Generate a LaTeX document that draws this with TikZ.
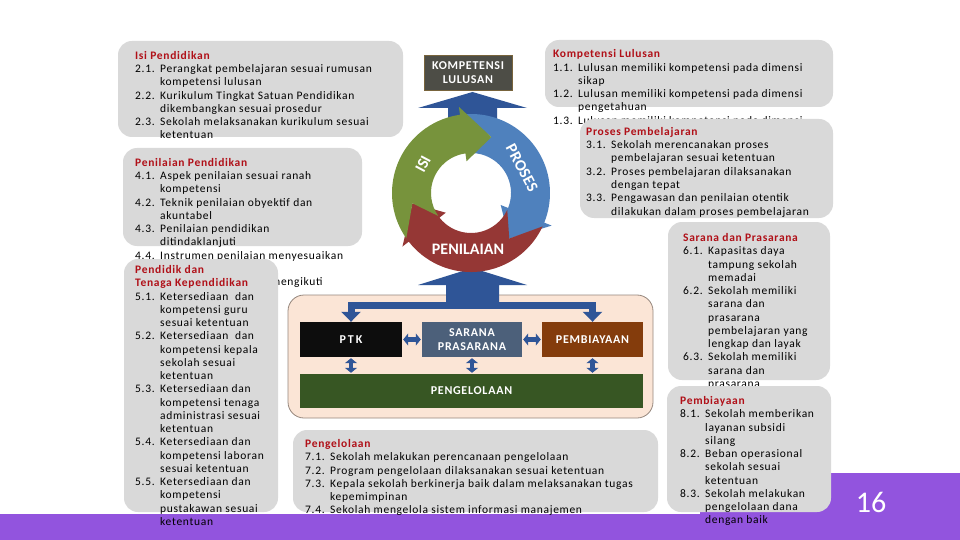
\documentclass[tikz,border=0pt]{standalone}
\usepackage{fontspec}
\setmainfont{Carlito}[LetterSpace=6]
\newfontfamily\plainf{Carlito}
\usetikzlibrary{arrows.meta,calc}

\definecolor{boxgray}{RGB}{217,217,217}
\definecolor{titlered}{RGB}{176,16,24}
\definecolor{purp}{RGB}{146,84,222}
\definecolor{navy}{RGB}{47,85,151}
\definecolor{cgreen}{RGB}{119,147,60}
\definecolor{cblue}{RGB}{79,129,189}
\definecolor{cred}{RGB}{149,55,53}
\definecolor{peach}{RGB}{251,229,214}
\definecolor{peachline}{RGB}{150,135,125}
\definecolor{kbox}{RGB}{77,77,70}
\definecolor{kline}{RGB}{120,100,60}
\definecolor{sarbox}{RGB}{76,96,122}
\definecolor{pembbox}{RGB}{132,60,12}
\definecolor{pglbox}{RGB}{55,86,35}

\newcommand{\ttlx}[1]{\hbox{\bfseries\color{titlered}#1}}
\newcommand{\itx}[2]{\hbox{\makebox[25pt][l]{#1}#2}}
\newcommand{\ctx}[1]{\hbox{\hspace*{25pt}#1}}
\newcommand{\blk}[1]{\vtop{\baselineskip=13.25pt\lineskiplimit=-20pt\lineskip=0pt\relax #1}}

\begin{document}
\begin{tikzpicture}[x=1pt,y=-1pt,
  gbox/.style={fill=boxgray, draw=none, rounded corners=14pt},
  txt/.style={anchor=base west, inner sep=0pt, font=\fontsize{11.5}{13.25}\selectfont},
  cbox/.style={inner sep=0pt, text=white, align=center, font=\bfseries\fontsize{12}{14}\selectfont},
  cyc/.style={text=white, inner sep=0pt, font=\plainf\bfseries\fontsize{16}{18}\selectfont},
  dbl/.style={navy, line width=4.5pt, {Triangle[width=12pt,length=5pt]}-{Triangle[width=12pt,length=5pt]}, shorten <=1pt, shorten >=1pt}
]
\useasboundingbox (0,0) rectangle (960,540);
\fill[white] (0,0) rectangle (960,540);

% purple bars
\fill[purp] (0,514) rectangle (960,540);
\fill[purp] (700,473) rectangle (960,540);

% left column
\path[gbox] (118,41) rectangle (403,137);
\node[txt] (tisi) at (135,59.5) {\blk{%
\ttlx{Isi Pendidikan}
\itx{2.1.}{Perangkat pembelajaran sesuai rumusan}
\ctx{kompetensi lulusan}
\itx{2.2.}{Kurikulum Tingkat Satuan Pendidikan}
\ctx{dikembangkan sesuai prosedur}
\itx{2.3.}{Sekolah melaksanakan kurikulum sesuai}
\ctx{ketentuan}}};

\path[gbox] (123,148) rectangle (362,246);
\node[txt] (tpen) at (135,166.5) {\blk{%
\ttlx{Penilaian Pendidikan}
\itx{4.1.}{Aspek penilaian sesuai ranah}
\ctx{kompetensi}
\itx{4.2.}{Teknik penilaian obyektif dan}
\ctx{akuntabel}
\itx{4.3.}{Penilaian pendidikan}
\ctx{ditindaklanjuti}
\itx{4.4.}{Instrumen penilaian menyesuaikan}
\hbox{}
\hbox{\hspace*{136pt}mengikuti}}};

\path[gbox] (124,259) rectangle (278,512);
\node[txt] (tptk) at (135,273.5) {\blk{%
\ttlx{Pendidik dan}
\ttlx{Tenaga Kependidikan}
\itx{5.1.}{Ketersediaan\ \ dan}
\ctx{kompetensi guru}
\ctx{sesuai ketentuan}
\itx{5.2.}{Ketersediaan\ \ dan}
\ctx{kompetensi kepala}
\ctx{sekolah sesuai}
\ctx{ketentuan}
\itx{5.3.}{Ketersediaan dan}
\ctx{kompetensi tenaga}
\ctx{administrasi sesuai}
\ctx{ketentuan}
\itx{5.4.}{Ketersediaan dan}
\ctx{kompetensi laboran}
\ctx{sesuai ketentuan}
\itx{5.5.}{Ketersediaan dan}
\ctx{kompetensi}
\ctx{pustakawan sesuai}
\ctx{ketentuan}}};

% right column
\path[gbox] (545,40) rectangle (833,107);
\node[txt] (tkomp) at (553,58) {\blk{%
\ttlx{Kompetensi Lulusan}
\itx{1.1.}{Lulusan memiliki kompetensi pada dimensi}
\ctx{sikap}
\itx{1.2.}{Lulusan memiliki kompetensi pada dimensi}
\ctx{pengetahuan}
\itx{1.3.}{Lulusan memiliki kompetensi pada dimensi}}};

\path[gbox] (580,119) rectangle (833,218);
\node[txt] (tpros) at (586,135.5) {\blk{%
\ttlx{Proses Pembelajaran}
\itx{3.1.}{Sekolah merencanakan proses}
\ctx{pembelajaran sesuai ketentuan}
\itx{3.2.}{Proses pembelajaran dilaksanakan}
\ctx{dengan tepat}
\itx{3.3.}{Pengawasan dan penilaian otentik}
\ctx{dilakukan dalam proses pembelajaran}}};

\path[gbox] (668,222) rectangle (830,380);
\node[txt] (tsar) at (683,241.5) {\blk{%
\ttlx{Sarana dan Prasarana}
\itx{6.1.}{Kapasitas daya}
\ctx{tampung sekolah}
\ctx{memadai}
\itx{6.2.}{Sekolah memiliki}
\ctx{sarana dan}
\ctx{prasarana}
\ctx{pembelajaran yang}
\ctx{lengkap dan layak}
\itx{6.3.}{Sekolah memiliki}
\ctx{sarana dan}
\ctx{prasarana}}};

\path[gbox] (667,386) rectangle (831,512);
\node[txt] (tpemb) at (680,404.5) {\blk{%
\ttlx{Pembiayaan}
\itx{8.1.}{Sekolah memberikan}
\ctx{layanan subsidi}
\ctx{silang}
\itx{8.2.}{Beban operasional}
\ctx{sekolah sesuai}
\ctx{ketentuan}
\itx{8.3.}{Sekolah melakukan}
\ctx{pengelolaan dana}
\ctx{dengan baik}}};

\path[gbox] (293,430) rectangle (658,512);
\node[txt] (tpgl) at (305,447.5) {\blk{%
\ttlx{Pengelolaan}
\itx{7.1.}{Sekolah melakukan perencanaan pengelolaan}
\itx{7.2.}{Program pengelolaan dilaksanakan sesuai ketentuan}
\itx{7.3.}{Kepala sekolah berkinerja baik dalam melaksanakan tugas}
\ctx{kepemimpinan}
\itx{7.4.}{Sekolah mengelola sistem informasi manajemen}}};

% KOMPETENSI LULUSAN box
\node[cbox, fill=kbox, draw=kline, line width=0.8pt, minimum width=88pt, minimum height=35pt] (komp) at (468,72.5) {KOMPETENSI\\LULUSAN};

% peach box and inner nodes
\path[fill=peach, draw=peachline, line width=0.8pt, rounded corners=16pt] (288,295) rectangle (653,418);
\node[cbox, fill=black!95, minimum width=102pt, minimum height=35pt] (ptk) at (351,339.5) {P\hspace{2pt}T\hspace{2pt}K};
\node[cbox, fill=sarbox, minimum width=100pt, minimum height=35pt] (sar) at (472,339.5) {SARANA\\PRASARANA};
\node[cbox, fill=pembbox, minimum width=101pt, minimum height=35pt] (pemb) at (592.5,339.5) {PEMBIAYAAN};
\node[cbox, fill=pglbox, minimum width=343pt, minimum height=34pt] (pgl) at (471.5,391) {PENGELOLAAN};

\draw[dbl] (ptk.east) -- (sar.west);
\draw[dbl] (sar.east) -- (pemb.west);
\draw[dbl] (ptk.south) -- (ptk.south |- pgl.north);
\draw[dbl] (sar.south) -- (sar.south |- pgl.north);
\draw[dbl] (pemb.south) -- (pemb.south |- pgl.north);

% bar from cycle down to PTK and PEMBIAYAAN
\coordinate (barmid) at (472.5,305.5);
\draw[navy, line width=7pt, line join=miter,
  {Triangle[width=19pt,length=10pt]}-{Triangle[width=19pt,length=10pt]}]
  (ptk.north) |- (barmid) -| (pemb.north);

% big block arrows of the cycle
\fill[navy] (448,125) -- (448,108) -- (418,108) -- (472.5,92) -- (527,108) -- (497,108) -- (497,125) -- cycle;
\fill[navy] (446,306) -- (446,285) -- (418,285) -- (472.5,268) -- (527,285) -- (499,285) -- (499,306) -- cycle;

% cycle
\coordinate (C) at (471,193);
\begin{scope}[shift={(C)}]
  \fill[cblue] (265:79) arc[start angle=265,end angle=382,radius=79] -- (382:87) -- (410:59.5) -- (382:32) -- (382:40)
     arc[start angle=382,end angle=265,radius=40] -- (290:59.5) -- cycle;
  \fill[cred] (25:79) arc[start angle=25,end angle=142,radius=79] -- (142:87) -- (170:59.5) -- (142:32) -- (142:40)
     arc[start angle=142,end angle=25,radius=40] -- (50:59.5) -- cycle;
  \fill[cgreen] (145:79) arc[start angle=145,end angle=262,radius=79] -- (262:87) -- (290:59.5) -- (262:32) -- (262:40)
     arc[start angle=262,end angle=145,radius=40] -- (170:59.5) -- cycle;
\end{scope}
\node[cyc, rotate=62] (lisi) at (423,164) {ISI};
\node[cyc, rotate=-62] (lpros) at (522,168) {PROSES};
\node[cyc] (lpen) at (468,249) {PENILAIAN};

% page number
\node[text=white, inner sep=0pt, font=\plainf\fontsize{30}{32}\selectfont] (pg) at (871,502) {16};
\end{tikzpicture}
\end{document}
